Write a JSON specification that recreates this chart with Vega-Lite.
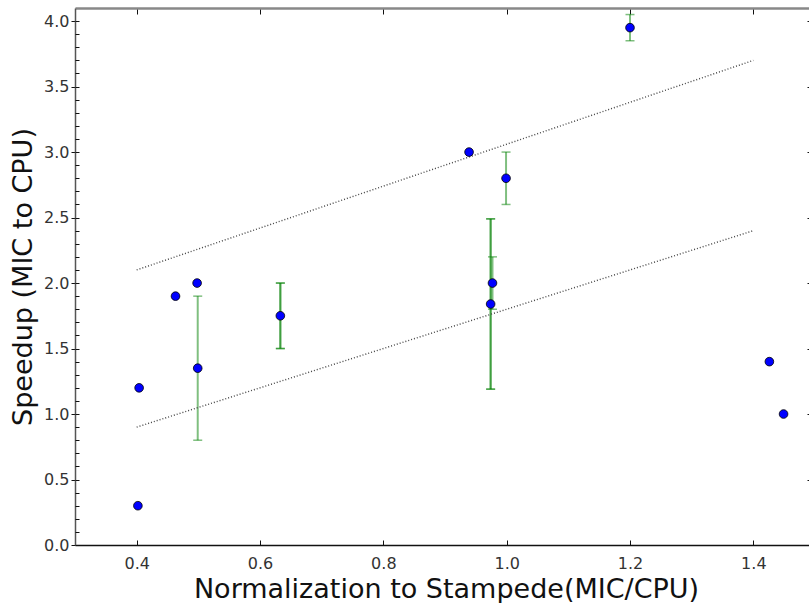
{
  "$schema": "https://vega.github.io/schema/vega-lite/v6.json",
  "width": 734,
  "height": 537,
  "autosize": {"type": "none"},
  "padding": {"left": 75, "top": 8, "right": 0, "bottom": 58},
  "background": "white",
  "config": {
    "view": {"stroke": null},
    "axis": {
      "grid": false,
      "labelFont": "DejaVu Sans",
      "titleFont": "DejaVu Sans",
      "labelFontSize": 16,
      "labelColor": "#333",
      "titleColor": "#111",
      "titleFontWeight": "normal",
      "tickColor": "#111",
      "domainColor": "#111"
    }
  },
  "datasets": {
    "points": [
      {"norm": 0.402, "speedup": 0.3},
      {"norm": 0.404, "speedup": 1.2},
      {"norm": 0.463, "speedup": 1.9},
      {"norm": 0.498, "speedup": 2.0},
      {"norm": 0.499, "speedup": 1.35},
      {"norm": 0.633, "speedup": 1.75},
      {"norm": 0.939, "speedup": 3.0},
      {"norm": 0.977, "speedup": 2.0},
      {"norm": 0.974, "speedup": 1.84},
      {"norm": 0.999, "speedup": 2.8},
      {"norm": 1.2, "speedup": 3.95},
      {"norm": 1.426, "speedup": 1.4},
      {"norm": 1.449, "speedup": 1.0}
    ],
    "errors": [
      {"norm": 0.499, "lo": 0.8, "hi": 1.9},
      {"norm": 0.633, "lo": 1.5, "hi": 2.0},
      {"norm": 0.633, "lo": 1.5, "hi": 2.0},
      {"norm": 0.974, "lo": 1.19, "hi": 2.49},
      {"norm": 0.974, "lo": 1.19, "hi": 2.49},
      {"norm": 0.977, "lo": 1.8, "hi": 2.2},
      {"norm": 0.999, "lo": 2.6, "hi": 3.0},
      {"norm": 1.2, "lo": 3.85, "hi": 4.05}
    ],
    "fits": [
      {"line": "upper", "norm": 0.4, "speedup": 2.1},
      {"line": "upper", "norm": 1.4, "speedup": 3.7},
      {"line": "lower", "norm": 0.4, "speedup": 0.9},
      {"line": "lower", "norm": 1.4, "speedup": 2.4}
    ]
  },
  "layer": [
    {
      "data": {"name": "errors"},
      "mark": {"type": "rule", "color": "#008000", "opacity": 0.5, "strokeWidth": 2},
      "encoding": {
        "x": {
          "field": "norm", "type": "quantitative",
          "scale": {"domain": [0.3, 1.5], "range": [0, 740], "nice": false, "zero": false},
          "axis": {
            "orient": "bottom",
            "values": [0.4, 0.6, 0.8, 1.0, 1.2, 1.4],
            "format": ".1f",
            "title": "Normalization to Stampede(MIC/CPU)",
            "titleFontSize": 27,
            "titleBaseline": "alphabetic",
            "titleX": 371,
            "titleY": 52,
            "tickSize": -5,
            "labelPadding": 15,
            "domainWidth": 1.5
          }
        },
        "y": {
          "field": "lo", "type": "quantitative",
          "scale": {"domain": [0, 4.1], "nice": false, "zero": false},
          "axis": {
            "orient": "left",
            "values": [0, 0.5, 1, 1.5, 2, 2.5, 3, 3.5, 4],
            "format": ".1f",
            "title": "Speedup (MIC to CPU)",
            "titleFontSize": 27,
            "titleBaseline": "alphabetic",
            "titleAngle": 270,
            "titleX": -44,
            "titleY": 268.5,
            "tickSize": 4,
            "labelPadding": 2,
            "domainWidth": 1.5,
            "domainColor": "#555"
          }
        },
        "y2": {"field": "hi"}
      }
    },
    {
      "data": {"name": "errors"},
      "mark": {"type": "tick", "orient": "horizontal", "color": "#008000", "opacity": 0.5, "size": 9, "thickness": 1.5},
      "encoding": {
        "x": {"field": "norm", "type": "quantitative", "axis": null},
        "y": {"field": "lo", "type": "quantitative", "axis": null}
      }
    },
    {
      "data": {"name": "errors"},
      "mark": {"type": "tick", "orient": "horizontal", "color": "#008000", "opacity": 0.5, "size": 9, "thickness": 1.5},
      "encoding": {
        "x": {"field": "norm", "type": "quantitative", "axis": null},
        "y": {"field": "hi", "type": "quantitative", "axis": null}
      }
    },
    {
      "data": {"name": "fits"},
      "mark": {"type": "line", "color": "#444", "strokeWidth": 1.4, "strokeDash": [1, 2]},
      "encoding": {
        "x": {"field": "norm", "type": "quantitative", "axis": null},
        "y": {"field": "speedup", "type": "quantitative", "axis": null},
        "detail": {"field": "line"}
      }
    },
    {
      "data": {"name": "points"},
      "mark": {"type": "point", "filled": true, "fill": "#0000ff", "stroke": "#000", "strokeWidth": 0.8, "size": 75, "opacity": 1},
      "encoding": {
        "x": {"field": "norm", "type": "quantitative", "axis": null},
        "y": {"field": "speedup", "type": "quantitative", "axis": null}
      }
    },
    {
      "data": {"name": "points"},
      "mark": {"type": "point", "opacity": 0},
      "encoding": {
        "x": {
          "field": "norm", "type": "quantitative",
          "axis": {
            "orient": "top",
            "values": [0.4, 0.6, 0.8, 1.0, 1.2, 1.4],
            "labels": false,
            "title": null,
            "tickSize": -6,
            "domainWidth": 2.5,
            "domainColor": "#888"
          }
        },
        "y": {
          "field": "speedup", "type": "quantitative",
          "axis": {
            "orient": "right",
            "offset": 6,
            "values": [0, 0.5, 1, 1.5, 2, 2.5, 3, 3.5, 4],
            "labels": false,
            "title": null,
            "tickSize": -8,
            "domain": false
          }
        }
      }
    },
    {
      "data": {"name": "points"},
      "mark": {"type": "point", "opacity": 0},
      "encoding": {
        "x": {"field": "norm", "type": "quantitative", "axis": null},
        "y": {
          "field": "speedup", "type": "quantitative",
          "axis": {
            "orient": "left",
            "values": [0, 0.1, 0.2, 0.3, 0.4, 0.5, 0.6, 0.7, 0.8, 0.9, 1, 1.1, 1.2, 1.3, 1.4, 1.5, 1.6, 1.7, 1.8, 1.9, 2, 2.1, 2.2, 2.3, 2.4, 2.5, 2.6, 2.7, 2.8, 2.9, 3, 3.1, 3.2, 3.3, 3.4, 3.5, 3.6, 3.7, 3.8, 3.9, 4],
            "labels": false,
            "title": null,
            "tickSize": -4,
            "domain": false
          }
        }
      }
    }
  ],
  "resolve": {"axis": {"x": "independent", "y": "independent"}}
}
